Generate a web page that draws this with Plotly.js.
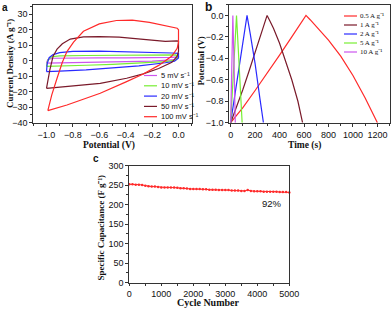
<!DOCTYPE html>
<html><head><meta charset="utf-8">
<script src="https://cdn.plot.ly/plotly-3.0.1.min.js"></script>
<style>html,body{margin:0;padding:0;background:#fff}#chart{width:392px;height:309px}</style>
</head><body><div id="chart"></div>
<script>
// ---- Panel a: cyclic voltammetry (Potential V, Current density A/g) ----
const cvNames = ['5 mV s⁻¹','10 mV s⁻¹','20 mV s⁻¹','50 mV s⁻¹','100 mV s⁻¹'];
const cv5x  = [-1.0,-0.99,-0.95,-0.8,-0.6,-0.4,-0.2,-0.05,0.0,-0.02,-0.2,-0.4,-0.6,-0.8,-0.95,-1.0];
const cv5y  = [-1.5,0.8,1.6,1.8,1.8,1.8,1.9,2.2,2.5,0.8,-0.2,-0.6,-1.0,-1.3,-1.5,-1.5];
const cv10x = [-1.0,-0.99,-0.96,-0.9,-0.7,-0.5,-0.3,-0.1,-0.02,0.0,-0.02,-0.1,-0.3,-0.5,-0.7,-0.9,-0.97,-1.0];
const cv10y = [-3.6,0.5,2.6,3.2,3.4,3.4,3.4,3.5,3.8,2.5,0.5,-0.5,-1.5,-2.3,-2.9,-3.4,-3.6,-3.6];
const cv20x = [-1.0,-0.995,-0.98,-0.95,-0.9,-0.8,-0.6,-0.4,-0.2,-0.05,0.0,0.0,-0.03,-0.1,-0.3,-0.5,-0.7,-0.9,-0.98,-1.0];
const cv20y = [-7.0,-2.0,2.0,4.0,5.2,6.0,6.2,5.9,5.4,5.0,4.8,1.8,-0.3,-1.3,-3.3,-4.8,-5.9,-6.7,-7.0,-7.0];
const cv50x = [-1.0,-0.99,-0.975,-0.95,-0.92,-0.88,-0.82,-0.72,-0.6,-0.45,-0.35,-0.22,-0.1,-0.01,0.0,0.0,-0.01,-0.05,-0.15,-0.267,-0.393,-0.593,-0.845,-0.99,-1.0];
const cv50y = [-17.8,-12,-6,3,7.5,11,14,15.4,15.6,15.2,14.5,13.4,12.5,12.8,12.5,6,3,-1,-5,-8.5,-11.3,-14.6,-16.7,-17.8,-17.8];
const cv100x = [-0.99,-0.96,-0.92,-0.88,-0.845,-0.795,-0.72,-0.6,-0.47,-0.35,-0.22,-0.1,-0.01,0.0,0.0,-0.01,-0.05,-0.15,-0.267,-0.393,-0.593,-0.845,-0.99];
const cv100y = [-32.2,-22,-11.3,-1,5.9,12,19,23.8,26,26.2,24.8,22.8,21,20,12,8,3,-3,-8.5,-13.5,-21,-28.6,-32.2];
const cvColors = ['#cc55ee','#77ee33','#2a2aff','#7a1a2a','#ff2a2a'];

// ---- Panel b: galvanostatic charge/discharge (Time s, Potential V) ----
const gcdNames = ['0.5 A g⁻¹','1 A g⁻¹','2 A g⁻¹','5 A g⁻¹','10 A g⁻¹'];
const gcd05t = [0,50,100,200,300,400,500,600,616,650,700,800,900,1000,1100,1200];
const gcd05v = [-1.0,-0.93,-0.86,-0.7,-0.54,-0.37,-0.2,-0.03,0.0,-0.04,-0.1,-0.23,-0.38,-0.56,-0.77,-1.0];
const gcd1t = [0,50,100,150,200,250,298,320,350,400,450,500,550,588];
const gcd1v = [-1.0,-0.85,-0.69,-0.52,-0.35,-0.17,0.0,-0.05,-0.12,-0.26,-0.42,-0.6,-0.8,-1.0];
const gcd2t = [0,30,60,90,120,134,160,200,240,268];
const gcd2v = [-1.0,-0.78,-0.56,-0.33,-0.11,0.0,-0.17,-0.45,-0.78,-1.0];
const gcd5t = [0,24,48,70,94];
const gcd5v = [-1.0,-0.5,0.0,-0.48,-1.0];
const gcd10t = [0,9,18,28,38];
const gcd10v = [-1.0,-0.5,0.0,-0.47,-1.0];
const gcdColors = ['#ff2a2a','#7a1a2a','#2a2aff','#77ee33','#cc55ee'];

// ---- Panel c: cycling stability ----
const cycles = [0,100,200,300,400,500,600,700,800,900,1000,1100,1200,1300,1400,1500,1600,1700,1800,1900,2000,2100,2200,2300,2400,2500,2600,2700,2800,2900,3000,3100,3200,3300,3400,3500,3600,3700,3800,3900,4000,4100,4200,4300,4400,4500,4600,4700,4800,4900,5000];
const capacitance = [252,252,251,251,250,248,247,246,246,245,244,244,244,244,244,243,242,242,241,240,240,240,240,239,239,238,238,238,237,237,237,237,236,236,236,235,235,237,235,234,234,234,233,233,233,233,233,232,232,232,231];
const retentionText = '92%';

// axis titles
const titleA_x = 'Potential (V)', titleA_y = 'Current Density (A g⁻¹)';
const titleB_x = 'Time (s)', titleB_y = 'Potential (V)';
const titleC_x = 'Cycle Number', titleC_y = 'Specific Capacitance (F g⁻¹)';

const sans = 'Liberation Sans, Arial, sans-serif';
const serif = 'Liberation Serif, Times New Roman, serif';
const W = 392, H = 309;
const px = v => v / W, py = v => 1 - v / H;

const cvX = [cv5x,cv10x,cv20x,cv50x,cv100x], cvY = [cv5y,cv10y,cv20y,cv50y,cv100y];
const gT = [gcd05t,gcd1t,gcd2t,gcd5t,gcd10t], gV = [gcd05v,gcd1v,gcd2v,gcd5v,gcd10v];

const traces = [];
cvNames.forEach((n,i)=>traces.push({x:cvX[i],y:cvY[i],mode:'lines',name:n,xaxis:'x',yaxis:'y',line:{color:cvColors[i],width:1.2},showlegend:false}));
gcdNames.forEach((n,i)=>traces.push({x:gT[i],y:gV[i],mode:'lines',name:n,xaxis:'x2',yaxis:'y2',line:{color:gcdColors[i],width:1.2},showlegend:false}));
traces.push({x:cycles,y:capacitance,mode:'lines+markers',xaxis:'x3',yaxis:'y3',line:{color:'#ff2a2a',width:1},marker:{color:'#ff2a2a',size:2.5},showlegend:false,cliponaxis:false});

const base = {showline:true,linecolor:'#333',linewidth:1,mirror:true,ticks:'outside',ticklen:3,tickwidth:1,tickcolor:'#333',showgrid:false,zeroline:false,automargin:false,
  tickfont:{family:sans,size:9,color:'#111'}};
const mnr = d => ({ticks:'outside',ticklen:2,dtick:d,tickcolor:'#333'});

const shapes = [], annotations = [];
const addTitle = (t,x,y,sz,ang,ya)=>annotations.push({xref:'paper',yref:'paper',x:px(x),y:py(y),xanchor:'center',yanchor:ya||'middle',text:t,textangle:ang||0,showarrow:false,borderpad:0,font:{family:serif,size:sz,color:'#111',weight:'bold'}});
addTitle(titleA_x,109,145.5,9.5);
addTitle(titleA_y,9.5,63.5,9,-90);
addTitle(titleB_x,304,145.5,9.5);
addTitle(titleB_y,200.5,61,9,-90);
addTitle(titleC_x,208,309,10,0,'bottom');
addTitle(titleC_y,100.5,228,9,-90);

// legend a
const legAy = [75.5,85.8,96.1,106.4,116.7];
cvNames.forEach((n,i)=>{
  shapes.push({type:'line',xref:'paper',yref:'paper',x0:px(144),x1:px(157),y0:py(legAy[i]),y1:py(legAy[i]),line:{color:cvColors[i],width:1.2}});
  annotations.push({xref:'paper',yref:'paper',x:px(158.5),y:py(legAy[i]),xanchor:'left',yanchor:'middle',text:n,showarrow:false,font:{family:sans,size:7.5,color:'#111'}});
});
// legend b
const legBy = [16,25,34,43,52];
gcdNames.forEach((n,i)=>{
  shapes.push({type:'line',xref:'paper',yref:'paper',x0:px(344),x1:px(357),y0:py(legBy[i]),y1:py(legBy[i]),line:{color:gcdColors[i],width:1.2}});
  annotations.push({xref:'paper',yref:'paper',x:px(358),y:py(legBy[i]),xanchor:'left',yanchor:'middle',text:n,showarrow:false,font:{family:serif,size:7,color:'#111'}});
});
// panel letters
[['a',5,7.5,10],['b',208,7.5,12],['c',96,158,10]].forEach(l=>annotations.push({xref:'paper',yref:'paper',x:px(l[1]),y:py(l[2]),xanchor:'center',yanchor:'middle',text:l[0],showarrow:false,font:{family:sans,size:l[3],color:'#111',weight:'bold'}}));
annotations.push({xref:'x3',yref:'y3',x:4450,y:203,text:retentionText,showarrow:false,xanchor:'center',yanchor:'middle',font:{family:sans,size:9.5,color:'#111'}});

const layout = {
  width:W,height:H,margin:{l:0,r:0,t:0,b:0},paper_bgcolor:'#fff',plot_bgcolor:'#fff',showlegend:false,
  xaxis:Object.assign({},base,{domain:[px(33.3),px(191.7)],range:[-1.1,0.1],tickvals:[-1.0,-0.8,-0.6,-0.4,-0.2,0.0],tickformat:'.1f',anchor:'y',minor:mnr(0.1)}),
  yaxis:Object.assign({},base,{domain:[py(122.7),py(5)],range:[-40,36],dtick:10,tick0:0,anchor:'x',minor:mnr(5)}),
  xaxis2:Object.assign({},base,{domain:[px(229.3),px(390)],range:[-11,1303],dtick:200,tick0:0,anchor:'y2',minor:mnr(100)}),
  yaxis2:Object.assign({},base,{domain:[py(122.7),py(4.7)],range:[-1.0,0.1],dtick:0.2,tick0:0,tickformat:'.1f',anchor:'x2',minor:mnr(0.1)}),
  xaxis3:Object.assign({},base,{domain:[px(129.3),px(289.3)],range:[0,5000],dtick:1000,anchor:'y3',ticklen:2,minor:mnr(500)}),
  yaxis3:Object.assign({},base,{domain:[py(282.7),py(165.5)],range:[0,300],dtick:50,anchor:'x3',minor:mnr(25)}),
  shapes:shapes,annotations:annotations
};
Plotly.newPlot('chart',traces,layout,{staticPlot:true,displayModeBar:false});
</script></body></html>
